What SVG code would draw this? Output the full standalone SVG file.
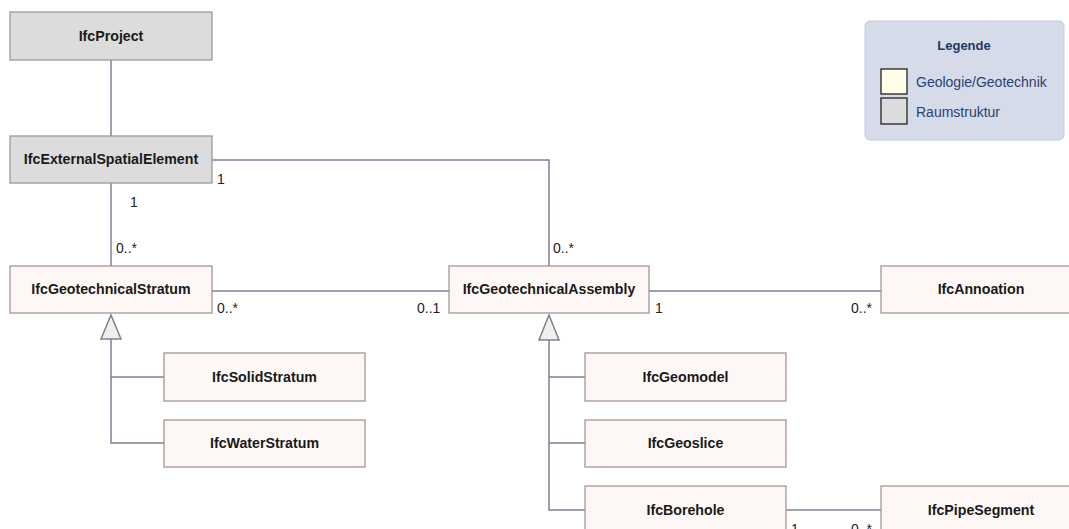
<svg xmlns="http://www.w3.org/2000/svg" width="1069" height="529" viewBox="0 0 1069 529">
  <style>
    .space { fill: #dcdcdc; stroke: #a89494; stroke-width: 1.3; }
    .geo { fill: #fdf8f5; stroke: #a89494; stroke-width: 1.3; }
    .name { font-family: "Liberation Sans", Arial, sans-serif; font-size: 14.2px; font-weight: bold; fill: #1a1a1a; text-anchor: middle; }
    .mult { font-family: "Liberation Sans", Arial, sans-serif; font-size: 14px; fill: #222; }
    .edge { fill: none; stroke: #7b8095; stroke-width: 1.5; }
    .gen { fill: #f3eeec; stroke: #7b8095; stroke-width: 1.5; }
    .legtext { font-family: "Liberation Sans", Arial, sans-serif; font-size: 14px; fill: #2a4270; }
  </style>
  <rect width="1069" height="529" fill="#ffffff"/>

  <!-- connectors -->
  <g id="connectors">
    <path class="edge" d="M111 60 V136"/>
    <path class="edge" d="M111 183 V266"/>
    <path class="edge" d="M212 160 H549 V266"/>
    <path class="edge" d="M212 291 H449"/>
    <path class="edge" d="M649 291 H881"/>
    <path class="edge" d="M786 510 H881"/>
    <!-- generalization: strata -->
    <path class="edge" d="M111 339 V443 H164 M111 377 H164"/>
    <polygon class="gen" points="111,315 121,339 101,339"/>
    <!-- generalization: assemblies -->
    <path class="edge" d="M549 340 V510 H585 M549 377 H585 M549 443 H585"/>
    <polygon class="gen" points="549,315 559,340 539,340"/>
    <!-- multiplicities -->
    <text class="mult" x="217" y="184">1</text>
    <text class="mult" x="130" y="207">1</text>
    <text class="mult" x="116" y="253">0..*</text>
    <text class="mult" x="553" y="253">0..*</text>
    <text class="mult" x="217" y="313">0..*</text>
    <text class="mult" x="417" y="313">0..1</text>
    <text class="mult" x="655" y="313">1</text>
    <text class="mult" x="851" y="313">0..*</text>
    <text class="mult" x="791" y="534">1</text>
    <text class="mult" x="851" y="534">0..*</text>
  </g>

  <g id="IfcProject">
    <rect class="space" x="10" y="12" width="202" height="48"/>
    <text class="name" x="111" y="41">IfcProject</text>
  </g>
  <g id="IfcExternalSpatialElement">
    <rect class="space" x="10" y="136" width="202" height="47"/>
    <text class="name" x="111" y="164">IfcExternalSpatialElement</text>
  </g>
  <g id="IfcGeotechnicalStratum">
    <rect class="geo" x="10" y="266" width="202" height="47"/>
    <text class="name" x="111" y="294">IfcGeotechnicalStratum</text>
  </g>
  <g id="IfcGeotechnicalAssembly">
    <rect class="geo" x="449" y="266" width="200" height="47"/>
    <text class="name" x="549" y="294">IfcGeotechnicalAssembly</text>
  </g>
  <g id="IfcAnnoation">
    <rect class="geo" x="881" y="266" width="200" height="47"/>
    <text class="name" x="981" y="294">IfcAnnoation</text>
  </g>
  <g id="IfcSolidStratum">
    <rect class="geo" x="164" y="353" width="201" height="48"/>
    <text class="name" x="264.5" y="382">IfcSolidStratum</text>
  </g>
  <g id="IfcWaterStratum">
    <rect class="geo" x="164" y="420" width="201" height="47"/>
    <text class="name" x="264.5" y="448">IfcWaterStratum</text>
  </g>
  <g id="IfcGeomodel">
    <rect class="geo" x="585" y="353" width="201" height="48"/>
    <text class="name" x="685.5" y="382">IfcGeomodel</text>
  </g>
  <g id="IfcGeoslice">
    <rect class="geo" x="585" y="420" width="201" height="47"/>
    <text class="name" x="685.5" y="448">IfcGeoslice</text>
  </g>
  <g id="IfcBorehole">
    <rect class="geo" x="585" y="486" width="201" height="60"/>
    <text class="name" x="685.5" y="515">IfcBorehole</text>
  </g>
  <g id="IfcPipeSegment">
    <rect class="geo" x="881" y="486" width="200" height="60"/>
    <text class="name" x="981" y="515">IfcPipeSegment</text>
  </g>

  <g id="legend">
    <rect x="865" y="21" width="199" height="119" rx="5" fill="#d5dbe9" stroke="#c4cbdc" stroke-width="1"/>
    <text x="964" y="50" font-family="Liberation Sans, Arial, sans-serif" font-size="13" font-weight="bold" fill="#1f3864" text-anchor="middle">Legende</text>
    <rect x="881" y="69" width="26" height="25" fill="#fdfde8" stroke="#222" stroke-width="1.3"/>
    <rect x="881" y="98" width="26" height="26" fill="#dcdcdc" stroke="#222" stroke-width="1.3"/>
    <text class="legtext" x="916" y="87">Geologie/Geotechnik</text>
    <text class="legtext" x="916" y="117">Raumstruktur</text>
  </g>
</svg>
